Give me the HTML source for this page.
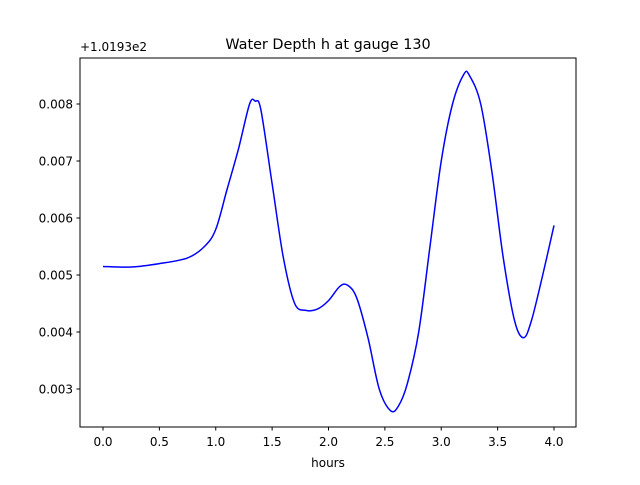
<!DOCTYPE html>
<html><head><meta charset="utf-8"><style>
body{margin:0;background:#fff;}
text{font-family:"DejaVu Sans","Liberation Sans",sans-serif;}
</style></head><body>
<svg id="chart" width="640" height="480" xmlns="http://www.w3.org/2000/svg">
<rect width="640" height="480" fill="#fff"/>
<text x="328" y="49" font-size="14.4" text-anchor="middle">Water Depth h at gauge 130</text>
<text x="80" y="51" font-size="12">+1.0193e2</text>
<text x="328" y="467" font-size="12" text-anchor="middle">hours</text>
<g id="xt"></g><g id="yt"></g>
<path id="line" fill="none" stroke="#0000ff" stroke-width="1.5"/>
<rect x="80" y="58" width="496" height="369" fill="none" stroke="#000" stroke-width="1"/>
</svg>
<script>
const times=[0,0.25,0.5,0.75,0.9,1.0,1.1,1.2,1.3,1.35,1.4,1.5,1.6,1.7,1.8,1.9,2.0,2.1,2.17,2.25,2.35,2.45,2.55,2.62,2.7,2.8,2.9,3.0,3.1,3.2,3.25,3.35,3.45,3.55,3.65,3.73,3.8,3.9,4.0];
const depths=[0.00515,0.00514,0.0052,0.0053,0.0055,0.0058,0.0065,0.0072,0.0080,0.00805,0.0079,0.0066,0.0053,0.0045,0.00438,0.0044,0.00455,0.0048,0.00482,0.0046,0.0039,0.0030,0.00262,0.0027,0.0031,0.0040,0.0055,0.0070,0.0080,0.00852,0.0085,0.0080,0.0068,0.0053,0.0042,0.0039,0.0042,0.0050,0.00587];
const xTicks=[0,0.5,1,1.5,2,2.5,3,3.5,4];
const xTickLabels=["0.0","0.5","1.0","1.5","2.0","2.5","3.0","3.5","4.0"];
const yTicks=[0.003,0.004,0.005,0.006,0.007,0.008];
const yTickLabels=["0.003","0.004","0.005","0.006","0.007","0.008"];
const X=v=>103+v*112.75;
const Y=v=>389-(v-0.003)*57000;
const ns="http://www.w3.org/2000/svg";
const xt=document.getElementById('xt'),yt=document.getElementById('yt');
xTicks.forEach((t,i)=>{
 const l=document.createElementNS(ns,'line');
 l.setAttribute('x1',X(t));l.setAttribute('x2',X(t));l.setAttribute('y1',427);l.setAttribute('y2',430.5);l.setAttribute('stroke','#000');
 
 
 xt.appendChild(l);
 const tx=document.createElementNS(ns,'text');
 tx.setAttribute('x',X(t));tx.setAttribute('y',446);tx.setAttribute('font-size','12');tx.setAttribute('text-anchor','middle');
 tx.textContent=xTickLabels[i];
 
 
 xt.appendChild(tx);
});
yTicks.forEach((t,i)=>{
 const l=document.createElementNS(ns,'line');
 l.setAttribute('x1',76.5);l.setAttribute('x2',80);l.setAttribute('y1',Y(t));l.setAttribute('y2',Y(t));l.setAttribute('stroke','#000');
 
 
 yt.appendChild(l);
 const tx=document.createElementNS(ns,'text');
 tx.setAttribute('x',73);tx.setAttribute('y',Y(t)+4.5);tx.setAttribute('font-size','12');tx.setAttribute('text-anchor','end');
 tx.textContent=yTickLabels[i];
 
 
 yt.appendChild(tx);
});
// Catmull-Rom smooth path
const pts=times.map((t,i)=>[X(t),Y(depths[i])]);
let d=`M${pts[0][0]},${pts[0][1]}`;
for(let i=0;i<pts.length-1;i++){
 const p0=pts[Math.max(0,i-1)],p1=pts[i],p2=pts[i+1],p3=pts[Math.min(pts.length-1,i+2)];
 const c1=[p1[0]+(p2[0]-p0[0])/6,p1[1]+(p2[1]-p0[1])/6];
 const c2=[p2[0]-(p3[0]-p1[0])/6,p2[1]-(p3[1]-p1[1])/6];
 d+=` C${c1[0]},${c1[1]} ${c2[0]},${c2[1]} ${p2[0]},${p2[1]}`;
}
document.getElementById('line').setAttribute('d',d);
</script>
</body></html>
